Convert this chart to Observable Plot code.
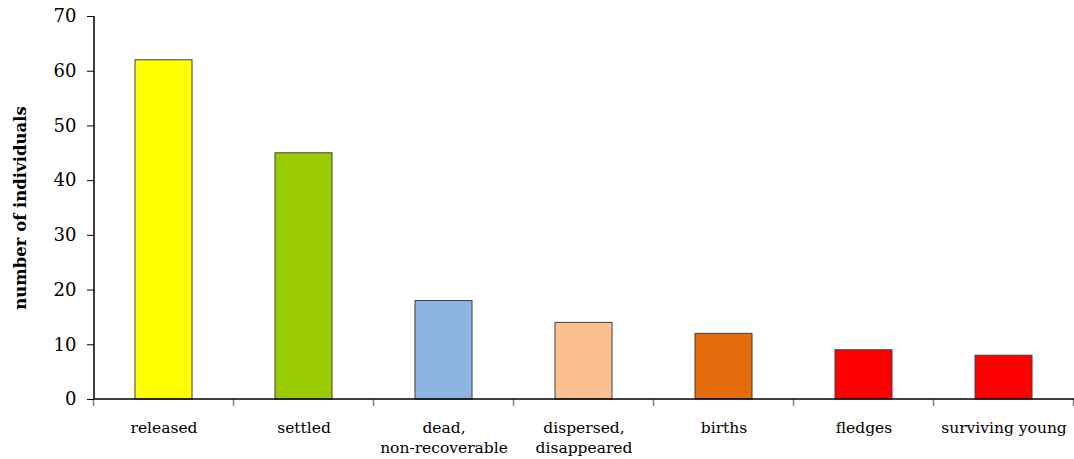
<!DOCTYPE html>
<html>
<head>
<meta charset="utf-8">
<script src="https://cdn.jsdelivr.net/npm/d3@7"></script>
<script src="https://cdn.jsdelivr.net/npm/@observablehq/plot@0.6"></script>
<style>
  html, body { margin: 0; padding: 0; background: #fff; }
  #chart svg { display: block; }
</style>
</head>
<body>
<div id="chart"></div>
<script>
const categories = ["released", "settled", "dead,\nnon-recoverable", "dispersed,\ndisappeared", "births", "fledges", "surviving young"];
const values = [62, 45, 18, 14, 12, 9, 8];
const colors = ["#FFFF00", "#99CC00", "#8EB4E3", "#FAC090", "#E46C0A", "#FF0000", "#FF0000"];
const yTicks = [0, 10, 20, 30, 40, 50, 60, 70];
const yLabel = "number of individuals";

const data = categories.map((c, i) => ({category: c, value: values[i], color: colors[i]}));

// band boundary ticks and axis lines derived from the scales
function axisFrame(index, scales, values, dims) {
  const x = scales.x, y = scales.y;
  const bw = typeof x.bandwidth === "function" ? x.bandwidth() : (x.bandwidth || 0);
  const centers = categories.map(c => x(c) + bw / 2);
  const step = centers[1] - centers[0];
  const bounds = [centers[0] - step / 2, ...centers.map(c => c + step / 2)];
  const y0 = y(0);
  const g = d3.create("svg:g");
  g.selectAll("line.tick").data(bounds).join("line")
    .attr("x1", d => d).attr("x2", d => d)
    .attr("y1", y0).attr("y2", y0 + 7)
    .attr("stroke", "#808080").attr("stroke-width", 1.5);
  g.append("line")
    .attr("x1", dims.marginLeft).attr("x2", dims.width - dims.marginRight)
    .attr("y1", y0).attr("y2", y0)
    .attr("stroke", "#000").attr("stroke-width", 1.5);
  g.append("line")
    .attr("x1", dims.marginLeft).attr("x2", dims.marginLeft)
    .attr("y1", y(yTicks[yTicks.length - 1])).attr("y2", y0)
    .attr("stroke", "#000").attr("stroke-width", 1.5);
  return g.node();
}

const plot = Plot.plot({
  width: 1074,
  height: 459,
  marginLeft: 94,
  marginRight: 0,
  marginTop: 16,
  marginBottom: 60,
  style: {fontFamily: "'DejaVu Serif', 'Liberation Serif', serif", color: "#000", background: "#fff"},
  x: {domain: categories, paddingInner: 0.59, paddingOuter: 0.295, label: null},
  y: {domain: [0, 70], label: null},
  marks: [
    Plot.barY(data, {x: "category", y: "value", fill: "color", stroke: "#404040", strokeWidth: 1}),
    axisFrame,
    Plot.axisY({ticks: yTicks, tickSize: 7, tickPadding: 11, fontSize: 18, label: null}),
    Plot.axisX({tickSize: 0, tickPadding: 19, fontSize: 15.5, lineHeight: 1.3, label: null}),
    Plot.text([yLabel], {frameAnchor: "left", textAnchor: "middle", dx: -74, rotate: -90, fontSize: 16.5, fontWeight: "bold", text: d => d})
  ]
});
document.getElementById("chart").appendChild(plot);
</script>
</body>
</html>
